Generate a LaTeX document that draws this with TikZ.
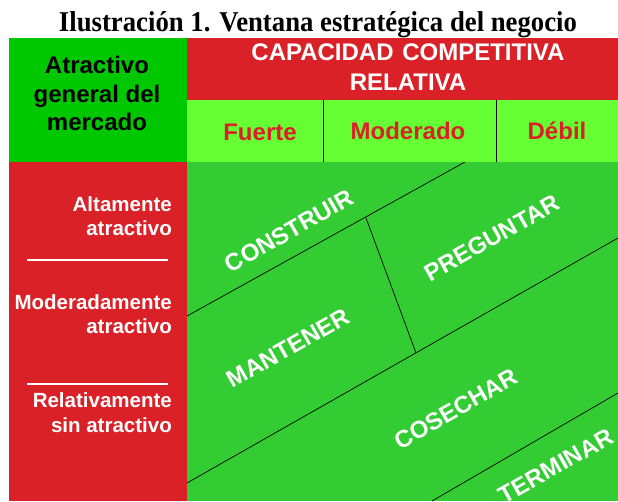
\documentclass[tikz,border=0pt]{standalone}
\usepackage{graphicx}
\usepackage{fontspec}
\setmainfont{Liberation Serif}
\newfontfamily\arial{Liberation Sans}
\definecolor{rojo}{HTML}{DA2128}
\definecolor{verdeosc}{HTML}{00C800}
\definecolor{verdecla}{HTML}{66FF33}
\definecolor{verde}{HTML}{33CC33}
\begin{document}
\begin{tikzpicture}[x=1pt,y=-1pt,
  hdr/.style={font=\arial\bfseries\fontsize{24}{28}\selectfont, inner sep=0pt, anchor=base},
  lbl/.style={font=\arial\bfseries\fontsize{20.5}{24}\selectfont, inner sep=0pt, anchor=base east, text=white},
  zona/.style={font=\arial\bfseries\fontsize{24}{28}\selectfont, inner sep=0pt, text=white, rotate=29.5},
  divisor/.style={draw=black, line width=0.7pt}]
\useasboundingbox (0,0) rectangle (618,501);
\fill[white] (0,0) rectangle (618,501);
% title
\node[anchor=base, inner sep=0pt] (titulo) at (318,31.7)
  {\resizebox{518pt}{\height}{\fontsize{28.7}{30}\selectfont\bfseries Ilustración 1. Ventana estratégica del negocio}};
% blocks
\fill[verdeosc] (9,38) rectangle (187,162);
\fill[rojo] (187,38) rectangle (618,100);
\fill[verdecla] (187,100) rectangle (618,162);
\fill[rojo] (9,162) rectangle (187,501);
\fill[verde] (187,162) rectangle (618,501);
\draw[divisor] (323,100) -- (323,162);
\draw[divisor] (496,100) -- (496,162);
% header texts
\node[hdr] (a1) at (97,73) {Atractivo};
\node[hdr] (a2) at (97,102) {general del};
\node[hdr] (a3) at (97,130) {mercado};
\node[hdr, text=white] (c1) at (408,60.7) {CAPACIDAD\hspace{2pt} COMPETITIVA};
\node[hdr, text=white] (c2) at (408,90) {RELATIVA};
\node[hdr, text=rojo] (f) at (260,140) {Fuerte};
\node[hdr, text=rojo] (m) at (408,139.5) {Moderado};
\node[hdr, text=rojo] (d) at (557,139.5) {Débil};
% left labels
\node[lbl] (l1) at (172,211) {Altamente};
\node[lbl] (l2) at (172,235) {atractivo};
\node[lbl] (l3) at (172,309) {Moderadamente};
\node[lbl] (l4) at (172,333) {atractivo};
\node[lbl] (l5) at (172,407) {Relativamente};
\node[lbl] (l6) at (172,432) {sin atractivo};
\draw[white, line width=2pt] (27,260) -- (168,260);
\draw[white, line width=2pt] (27,384) -- (168,384);
% diagonal zones
\begin{scope}
\clip (187,162) rectangle (618,501);
\coordinate (p1a) at (187,316);
\coordinate (p1b) at (465,162);
\coordinate (p2a) at (187,483);
\coordinate (p2b) at (618,238);
\coordinate (p3a) at (432,501);
\coordinate (p3b) at (618,393);
\coordinate (qa) at (366,218);
\coordinate (qb) at (416,353);
\draw[divisor] (p1a) -- (p1b);
\draw[divisor] (p2a) -- (p2b);
\draw[divisor] (p3a) -- (p3b);
\draw[divisor] (qa) -- (qb);
\node[zona] (z1) at (289,231) {CONSTRUIR};
\node[zona] (z2) at (492,238) {PREGUNTAR};
\node[zona] (z3) at (288,348) {MANTENER};
\node[zona] (z4) at (456,409) {COSECHAR};
\node[zona] (z5) at (556,466) {TERMINAR};
\end{scope}
\end{tikzpicture}
\end{document}
